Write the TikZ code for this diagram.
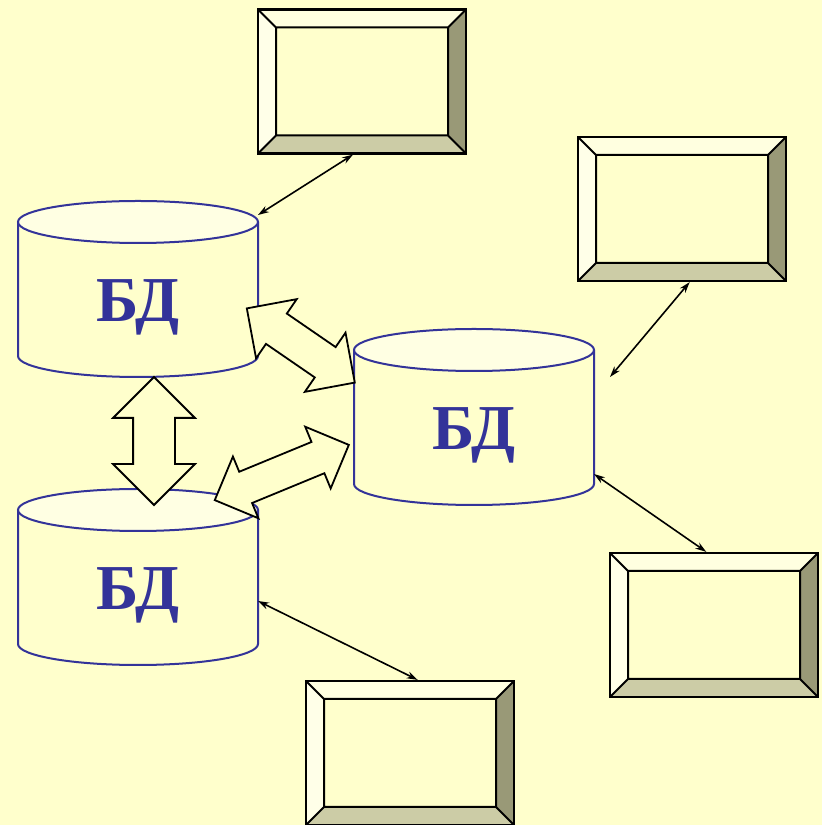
\documentclass[tikz,border=0pt]{standalone}
\usepackage{fontspec}
\setmainfont{Liberation Serif}
\usetikzlibrary{calc,shapes.arrows,arrows.meta}

\definecolor{bg}{HTML}{FFFFCC}
\definecolor{dbblue}{HTML}{333399}
\definecolor{dbtop}{HTML}{FFFFE3}
\definecolor{bevtop}{HTML}{FFFFE0}
\definecolor{bevleft}{HTML}{FFFFE8}
\definecolor{bevright}{HTML}{999977}
\definecolor{bevbottom}{HTML}{CCCCA6}

\tikzset{
  dbcyl/.style={draw=dbblue, line width=2pt, fill=bg},
  dblabel/.style={text=dbblue, font=\fontsize{64}{64}\selectfont\bfseries,
    anchor=base, inner sep=0pt},
  terminal/.style={draw, line width=2.2pt, fill=bg, inner sep=0pt,
    minimum width=208pt, minimum height=144pt,
    path picture={
      \coordinate (sw) at (path picture bounding box.south west);
      \coordinate (ne) at (path picture bounding box.north east);
      \coordinate (nw) at (sw |- ne);
      \coordinate (se) at (ne |- sw);
      \coordinate (isw) at ($(sw)+(18,18)$);
      \coordinate (ine) at ($(ne)+(-18,-18)$);
      \coordinate (inw) at (isw |- ine);
      \coordinate (ise) at (ine |- isw);
      \fill[bevtop] (nw) -- (ne) -- (ine) -- (inw) -- cycle;
      \fill[bevleft] (nw) -- (sw) -- (isw) -- (inw) -- cycle;
      \fill[bevright] (ne) -- (se) -- (ise) -- (ine) -- cycle;
      \fill[bevbottom] (sw) -- (se) -- (ise) -- (isw) -- cycle;
      \draw[line width=2pt] (isw) rectangle (ine)
        (sw) -- (isw) (nw) -- (inw) (ne) -- (ine) (se) -- (ise);
    }},
  flow/.style={double arrow, draw, fill=bg, line width=1.8pt,
    double arrow tip angle=90, inner xsep=0pt, minimum width=0pt},
  link/.style={{Stealth[length=11pt,width=7pt]}-{Stealth[length=11pt,width=7pt]},
    line width=1.6pt},
}

% cylinder: name, x of axis, y of top centre
\newcommand{\database}[3]{%
  \draw[dbcyl] (#2-120,#3) -- (#2-120,#3-134)
    arc[start angle=180, end angle=360, x radius=120, y radius=21] -- (#2+120,#3);
  \draw[dbcyl, fill=dbtop] (#2,#3) ellipse [x radius=120, y radius=21];
  \coordinate (#1-top) at (#2,#3);
  \node[dblabel] (#1) at (#2,#3-100) {БД};
}

\begin{document}
\begin{tikzpicture}[x=1pt, y=1pt]
  \fill[bg] (0,0) rectangle (822,825);
  \useasboundingbox (0,0) rectangle (822,825);

  % databases
  \database{db1}{138}{603}
  \database{db2}{474}{475}
  \database{db3}{138}{315}

  % exchange between databases
  \node[flow, inner ysep=20pt, double arrow head extend=20pt,
    minimum height=128pt, rotate=90] (f13) at (154,384) {};
  \node[flow, inner ysep=17.5pt, double arrow head extend=17.5pt,
    minimum height=131pt, rotate=-34.5] (f12) at (300.8,479.5) {};
  \node[flow, inner ysep=16pt, double arrow head extend=16.5pt,
    minimum height=145pt, rotate=22.4] (f23) at (281.8,352.5) {};

  % terminals
  \node[terminal] (t1) at (362,743.5) {};
  \node[terminal] (t2) at (682,616) {};
  \node[terminal] (t3) at (714,200) {};
  \node[terminal] (t4) at (410,72) {};

  % links
  \coordinate (free) at ($(db2-top)+(136,-27)$);
  \draw[link] (t1.263) -- ($(db1-top)+(120,7)$);
  \draw[link] (t2.276) -- (free);
  \draw[link] ($(db2-top)+(120,-124)$) -- (t3.96);
  \draw[link] ($(db3-top)+(120,-91)$) -- (t4.84);
\end{tikzpicture}
\end{document}
